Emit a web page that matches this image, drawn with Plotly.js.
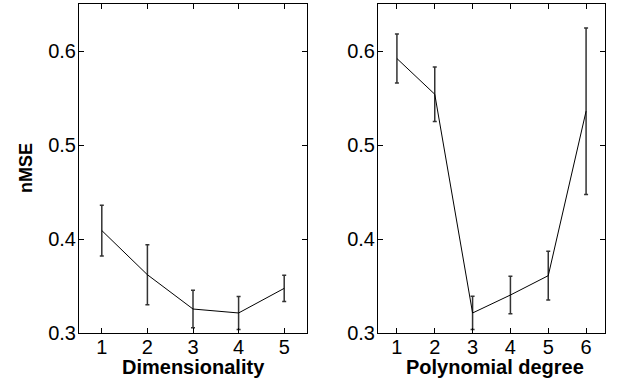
<!DOCTYPE html>
<html><head><meta charset="utf-8">
<script src="https://cdn.plot.ly/plotly-3.0.1.min.js"></script>
<style>html,body{margin:0;padding:0;background:#fff}#c{width:621px;height:381px}</style>
</head><body><div id="c"></div>
<script>
const dimX = [1, 2, 3, 4, 5];
const dimY = [0.409, 0.362, 0.3255, 0.3213, 0.3475];
const dimErr = [0.027, 0.032, 0.020, 0.0175, 0.014];
const degX = [1, 2, 3, 4, 5, 6];
const degY = [0.592, 0.554, 0.3213, 0.3404, 0.361, 0.536];
const degErr = [0.026, 0.029, 0.0177, 0.020, 0.026, 0.0886];
const yTicks = [0.3, 0.4, 0.5, 0.6];
const yTickText = ['0.3', '0.4', '0.5', '0.6'];
const xTitle1 = 'Dimensionality';
const xTitle2 = 'Polynomial degree';
const yTitle = 'nMSE';

const font = {family: 'Liberation Sans, Arial, sans-serif', size: 20, color: '#000'};
const titleFont = {family: 'Liberation Sans, Arial, sans-serif', size: 20, color: '#000', weight: 'bold'};

function errTrace(x, y, e, xa, ya) {
  return {x: x, y: y, xaxis: xa, yaxis: ya, type: 'scatter', mode: 'lines',
    line: {color: '#000', width: 1},
    error_y: {type: 'data', array: e, visible: true, color: '#333', thickness: 1.5, width: 2},
    hoverinfo: 'none', showlegend: false};
}

const axBase = {showline: true, linecolor: '#000', linewidth: 1, mirror: 'ticks',
  ticks: 'inside', ticklen: 5, tickcolor: '#000', showgrid: false, zeroline: false,
  tickfont: font, automargin: false};

const layout = {
  width: 621, height: 381,
  margin: {l: 0, r: 0, t: 4, b: 48},
  paper_bgcolor: '#fff', plot_bgcolor: '#fff',
  showlegend: false,
  xaxis: Object.assign({}, axBase, {domain: [79/621, 307/621], range: [0.5, 5.5],
    tickvals: dimX, ticktext: dimX.map(String), anchor: 'y', ticklabelstandoff: -4}),
  yaxis: Object.assign({}, axBase, {range: [0.3, 0.65], tickvals: yTicks, ticktext: yTickText,
    anchor: 'x', ticklabelstandoff: -2}),
  xaxis2: Object.assign({}, axBase, {domain: [378/621, 605/621], range: [0.5, 6.5],
    tickvals: degX, ticktext: degX.map(String), anchor: 'y2', ticklabelstandoff: -4}),
  yaxis2: Object.assign({}, axBase, {range: [0.3, 0.65], tickvals: yTicks, ticktext: yTickText,
    anchor: 'x2', ticklabelstandoff: -2}),
  annotations: [
    {text: xTitle1, xref: 'paper', yref: 'paper', x: 193/621, y: -34/329, xanchor: 'center', yanchor: 'middle',
     showarrow: false, font: titleFont},
    {text: xTitle2, xref: 'paper', yref: 'paper', x: 495/621, y: -34/329, xanchor: 'center', yanchor: 'middle',
     showarrow: false, font: titleFont},
    {text: yTitle, xref: 'paper', yref: 'paper', x: 26/621, y: (333-168)/329, xanchor: 'center', yanchor: 'middle',
     textangle: -90, showarrow: false, font: Object.assign({}, titleFont, {size: 18})}
  ]
};

Plotly.newPlot('c', [errTrace(dimX, dimY, dimErr, 'x', 'y'), errTrace(degX, degY, degErr, 'x2', 'y2')],
  layout, {staticPlot: true, displayModeBar: false});
</script></body></html>
